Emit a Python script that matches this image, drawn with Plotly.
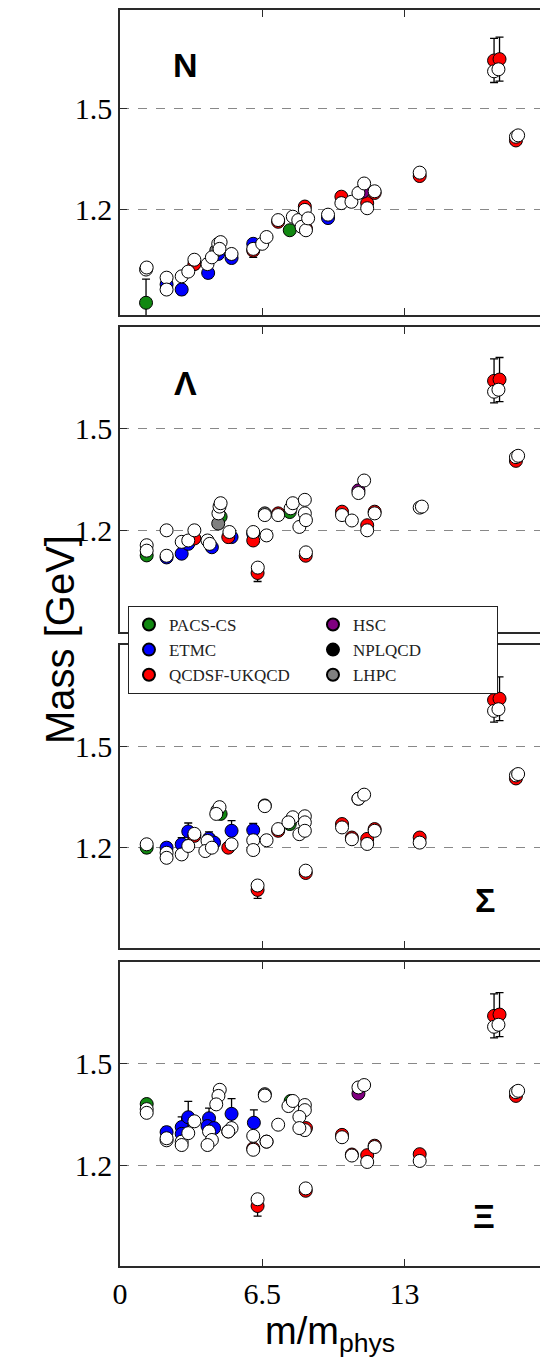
import plotly.graph_objects as go

# ---------------- data ----------------
GROUPS = ["PACS-CS", "ETMC", "QCDSF-UKQCD", "HSC", "NPLQCD", "LHPC"]
GROUP_COLORS = ["#118811", "#0000ff", "#ff0000", "#800080", "#000000", "#808080"]
LEGEND_RANK = [1, 3, 5, 2, 4, 6]

PANEL_LABELS = ["N", "Λ", "Σ", "Ξ"]
X_TICKS = [0, 6.5, 13]
Y_TICKS = [1.2, 1.5]

# --- N ---
N_x = [1.19, 7.76, 2.13, 2.82, 4.03, 5.1, 4.49, 9.51, 6.09,
       3.4, 6.09, 7.23, 8.45, 8.5, 10.12, 11.3, 11.64, 13.7, 17.1, 17.35, 18.1,
       11.11, 8.3, 4.4]
N_y = [0.926, 1.14, 0.98, 0.965, 1.014, 1.058, 1.07, 1.176, 1.10,
       1.04, 1.08, 1.165, 1.21, 1.145, 1.239, 1.22, 1.25, 1.30, 1.641, 1.645, 1.405,
       1.254, 1.17, 1.08]
N_err = [0.07, 0.01, 0.01, 0.015, 0.015, 0.01, 0.01, 0.01, 0.01,
         0.015, 0.02, 0.01, 0.01, 0.01, 0.01, 0.01, 0.01, 0.01, 0.065, 0.065, 0.005,
         0.01, 0.01, 0.01]
N_grp = ["PACS-CS", "PACS-CS", "ETMC", "ETMC", "ETMC", "ETMC", "ETMC", "ETMC", "ETMC",
         "QCDSF-UKQCD", "QCDSF-UKQCD", "QCDSF-UKQCD", "QCDSF-UKQCD", "QCDSF-UKQCD",
         "QCDSF-UKQCD", "QCDSF-UKQCD", "QCDSF-UKQCD", "QCDSF-UKQCD", "QCDSF-UKQCD",
         "QCDSF-UKQCD", "QCDSF-UKQCD", "HSC", "NPLQCD", "LHPC"]
N_fit_x = [1.19, 1.22, 2.13, 2.13, 2.82, 3.12, 3.4, 4.0, 4.2, 4.49, 4.6, 4.55, 5.1,
           6.09, 6.5, 6.7, 7.23, 7.9, 8.15, 8.45, 8.3, 8.5, 8.6, 9.51, 10.12, 10.58,
           10.9, 11.16, 11.3, 11.64, 13.7, 17.1, 17.3, 18.1, 18.2]
N_fit_y = [1.024, 1.03, 1.0, 0.965, 1.004, 1.018, 1.053, 1.04, 1.06, 1.10, 1.105, 1.085,
           1.07, 1.085, 1.10, 1.12, 1.17, 1.18, 1.17, 1.20, 1.15, 1.14, 1.175, 1.186,
           1.22, 1.224, 1.25, 1.278, 1.205, 1.255, 1.31, 1.609, 1.615, 1.416, 1.42]

# --- Lambda ---
L_x = [1.22, 7.76, 4.6,
       2.13, 2.82, 3.12, 4.2, 5.1, 6.09,
       3.4, 4.95, 6.09, 6.29, 7.23, 8.49, 10.15, 11.3, 11.64, 17.1, 17.35, 18.1,
       10.9, 4.49, 6.62]
L_y = [1.126, 1.254, 1.24,
       1.12, 1.131, 1.16, 1.15, 1.18, 1.19,
       1.176, 1.18, 1.17, 1.074, 1.25, 1.125, 1.255, 1.215, 1.255, 1.641, 1.645, 1.405,
       1.318, 1.22, 1.25]
L_err = [0.01, 0.01, 0.01,
         0.01, 0.01, 0.01, 0.01, 0.01, 0.01,
         0.01, 0.01, 0.01, 0.025, 0.005, 0.005, 0.005, 0.01, 0.005, 0.065, 0.065, 0.005,
         0.01, 0.01, 0.01]
L_grp = ["PACS-CS", "PACS-CS", "PACS-CS",
         "ETMC", "ETMC", "ETMC", "ETMC", "ETMC", "ETMC",
         "QCDSF-UKQCD", "QCDSF-UKQCD", "QCDSF-UKQCD", "QCDSF-UKQCD", "QCDSF-UKQCD",
         "QCDSF-UKQCD", "QCDSF-UKQCD", "QCDSF-UKQCD", "QCDSF-UKQCD", "QCDSF-UKQCD",
         "QCDSF-UKQCD", "QCDSF-UKQCD", "HSC", "LHPC", "LHPC"]
L_fit_x = [1.22, 1.22, 2.13, 2.13, 2.82, 3.12, 3.4, 4.0, 4.1, 4.5, 4.55, 4.6, 5.0, 6.09,
           6.3, 6.62, 6.7, 7.23, 7.8, 7.9, 8.45, 8.45, 8.2, 8.5, 8.5, 10.15, 10.6, 10.9,
           11.16, 11.3, 11.64, 13.7, 13.8, 17.1, 17.3, 18.1, 18.2]
L_fit_y = [1.156, 1.14, 1.20, 1.125, 1.166, 1.17, 1.20, 1.17, 1.16, 1.25, 1.27, 1.28,
           1.195, 1.195, 1.09, 1.245, 1.185, 1.245, 1.265, 1.28, 1.29, 1.25, 1.21, 1.23,
           1.135, 1.245, 1.229, 1.31, 1.347, 1.20, 1.25, 1.267, 1.27, 1.609, 1.615,
           1.416, 1.42]

# --- Sigma ---
S_x = [1.22, 4.6, 7.76,
       2.13, 2.82, 3.12, 4.07, 4.3, 5.1, 6.09,
       3.4, 4.95, 6.29, 7.23, 8.49, 10.15, 10.6, 11.3, 11.64, 13.7, 17.1, 17.35, 18.1,
       10.9, 6.62]
S_y = [1.20, 1.30, 1.27,
       1.20, 1.21, 1.248, 1.227, 1.215, 1.25, 1.252,
       1.235, 1.20, 1.075, 1.25, 1.125, 1.27, 1.23, 1.226, 1.255, 1.23, 1.637, 1.641,
       1.405, 1.345, 1.325]
S_err = [0.015, 0.01, 0.01,
         0.015, 0.02, 0.025, 0.02, 0.01, 0.03, 0.02,
         0.01, 0.01, 0.025, 0.005, 0.005, 0.005, 0.005, 0.005, 0.005, 0.005, 0.065,
         0.065, 0.005, 0.015, 0.01]
S_grp = ["PACS-CS", "PACS-CS", "PACS-CS",
         "ETMC", "ETMC", "ETMC", "ETMC", "ETMC", "ETMC", "ETMC",
         "QCDSF-UKQCD", "QCDSF-UKQCD", "QCDSF-UKQCD", "QCDSF-UKQCD", "QCDSF-UKQCD",
         "QCDSF-UKQCD", "QCDSF-UKQCD", "QCDSF-UKQCD", "QCDSF-UKQCD", "QCDSF-UKQCD",
         "QCDSF-UKQCD", "QCDSF-UKQCD", "QCDSF-UKQCD", "HSC", "LHPC"]
S_fit_x = [1.22, 2.13, 2.13, 2.82, 3.12, 3.4, 4.0, 3.9, 4.2, 4.45, 4.55, 4.4, 5.1, 6.09,
           6.09, 6.29, 6.62, 6.7, 7.23, 7.9, 7.7, 8.45, 8.45, 8.2, 8.45, 8.49, 10.15,
           10.6, 10.9, 11.16, 11.3, 11.64, 13.7, 17.1, 17.3, 18.1, 18.2]
S_fit_y = [1.21, 1.185, 1.17, 1.18, 1.205, 1.241, 1.22, 1.19, 1.20, 1.31, 1.32, 1.30,
           1.21, 1.222, 1.193, 1.088, 1.323, 1.222, 1.255, 1.29, 1.275, 1.293, 1.275,
           1.24, 1.25, 1.132, 1.26, 1.225, 1.345, 1.357, 1.211, 1.25, 1.215, 1.605,
           1.61, 1.414, 1.418]

# --- Xi ---
X_x = [1.22, 7.8,
       2.13, 2.82, 2.82, 3.12, 4.07, 4.0, 4.3, 5.1, 6.12, 8.3,
       4.95, 6.09, 6.29, 6.7, 8.5, 8.49, 10.15, 10.6, 11.3, 11.64, 13.7, 17.1, 17.35, 18.1,
       10.9, 6.62]
X_y = [1.381, 1.39,
       1.298, 1.313, 1.293, 1.342, 1.339, 1.316, 1.31, 1.352, 1.326, 1.31,
       1.30, 1.25, 1.08, 1.27, 1.31, 1.125, 1.29, 1.232, 1.23, 1.258, 1.233, 1.641,
       1.645, 1.405, 1.412, 1.41]
X_err = [0.01, 0.01,
         0.015, 0.03, 0.02, 0.047, 0.03, 0.02, 0.01, 0.045, 0.038, 0.01,
         0.01, 0.01, 0.03, 0.005, 0.01, 0.005, 0.005, 0.005, 0.005, 0.005, 0.005, 0.065,
         0.065, 0.005, 0.01, 0.01]
X_grp = ["PACS-CS", "PACS-CS",
         "ETMC", "ETMC", "ETMC", "ETMC", "ETMC", "ETMC", "ETMC", "ETMC", "ETMC", "ETMC",
         "QCDSF-UKQCD", "QCDSF-UKQCD", "QCDSF-UKQCD", "QCDSF-UKQCD", "QCDSF-UKQCD",
         "QCDSF-UKQCD", "QCDSF-UKQCD", "QCDSF-UKQCD", "QCDSF-UKQCD", "QCDSF-UKQCD",
         "QCDSF-UKQCD", "QCDSF-UKQCD", "QCDSF-UKQCD", "QCDSF-UKQCD", "HSC", "LHPC"]
X_fit_x = [1.22, 1.22, 2.13, 2.13, 2.82, 2.82, 3.12, 3.4, 4.07, 4.2, 4.0, 4.56, 4.5,
           4.4, 5.1, 4.95, 6.09, 6.09, 6.29, 6.62, 6.7, 7.23, 7.7, 7.9, 8.45, 8.45, 8.2,
           8.45, 8.2, 8.49, 10.15, 10.6, 10.9, 11.16, 11.3, 11.64, 13.7, 17.1, 17.3,
           18.1, 18.2]
X_fit_y = [1.366, 1.355, 1.274, 1.28, 1.27, 1.26, 1.295, 1.33, 1.30, 1.275, 1.26, 1.423,
           1.405, 1.38, 1.31, 1.30, 1.287, 1.246, 1.10, 1.406, 1.27, 1.32, 1.375, 1.39,
           1.378, 1.363, 1.343, 1.304, 1.31, 1.132, 1.283, 1.229, 1.43, 1.437, 1.21,
           1.254, 1.213, 1.609, 1.615, 1.416, 1.42]

PANELS = [
    (N_x, N_y, N_err, N_grp, N_fit_x, N_fit_y),
    (L_x, L_y, L_err, L_grp, L_fit_x, L_fit_y),
    (S_x, S_y, S_err, S_grp, S_fit_x, S_fit_y),
    (X_x, X_y, X_err, X_grp, X_fit_x, X_fit_y),
]

# ---------------- layout geometry ----------------
Y_RANGES = [[0.89, 1.79], [0.90, 1.80], [0.903, 1.80], [0.903, 1.80]]
DOMAINS = [[0.7572, 1.0], [0.5048, 0.7476], [0.2532, 0.4944], [0.0, 0.2420]]
LABEL_POS = [(2.99, 1.628), (2.98, 1.635), (16.7, 1.044), (16.64, 1.05)]
X_RANGE = [0, 19.2]

SERIF = "Liberation Serif, Times New Roman, serif"
SANS = "Liberation Sans, Arial, sans-serif"
AXIS_COLOR = "#2a2a2a"

fig = go.Figure()

for p, (px, py, pe, pg, fx, fy) in enumerate(PANELS):
    xa = "x" if p == 0 else f"x{p+1}"
    ya = "y" if p == 0 else f"y{p+1}"
    for g, col, rank in zip(GROUPS, GROUP_COLORS, LEGEND_RANK):
        gx = [x for x, gg in zip(px, pg) if gg == g]
        gy = [y for y, gg in zip(py, pg) if gg == g]
        ge = [e for e, gg in zip(pe, pg) if gg == g]
        fig.add_trace(go.Scatter(
            x=gx, y=gy, mode="markers", name=g,
            showlegend=(p == 0), legendrank=rank,
            xaxis=xa, yaxis=ya,
            marker=dict(size=13, color=col, line=dict(color="black", width=1)),
            error_y=dict(type="data", array=ge, color="black", thickness=1.3, width=4),
        ))
    fig.add_trace(go.Scatter(
        x=fx, y=fy, mode="markers", showlegend=False, xaxis=xa, yaxis=ya,
        marker=dict(size=13, color="white", line=dict(color="black", width=1)),
        hoverinfo="skip",
    ))

layout = dict(
    width=540, height=1358,
    margin=dict(l=120, r=0, t=10, b=92, autoexpand=False),
    paper_bgcolor="white", plot_bgcolor="white",
    showlegend=True,
    legend=dict(
        x=0.019, y=0.5255, xanchor="left", yanchor="top",
        orientation="h", entrywidth=139, entrywidthmode="pixels",
        bgcolor="white", bordercolor="#222222", borderwidth=1,
        font=dict(family=SERIF, size=17, color="#222222"),
        itemsizing="constant", tracegroupgap=0,
    ),
)

for p in range(4):
    xk = "xaxis" if p == 0 else f"xaxis{p+1}"
    yk = "yaxis" if p == 0 else f"yaxis{p+1}"
    ya = "y" if p == 0 else f"y{p+1}"
    xa = "x" if p == 0 else f"x{p+1}"
    layout[xk] = dict(
        domain=[0, 1], anchor=ya, range=X_RANGE, automargin=False,
        tickvals=X_TICKS, ticktext=[str(t) for t in X_TICKS],
        showticklabels=(p == 3), ticks="inside", ticklen=7, tickcolor=AXIS_COLOR,
        showline=True, linecolor=AXIS_COLOR, linewidth=1.5, mirror="ticks",
        showgrid=False, zeroline=False,
        tickfont=dict(family=SERIF, size=30, color="black"),
    )
    layout[yk] = dict(
        domain=DOMAINS[p], anchor=xa, range=Y_RANGES[p], automargin=False,
        tickvals=Y_TICKS, ticktext=[str(t) for t in Y_TICKS],
        ticks="inside", ticklen=7, tickcolor=AXIS_COLOR,
        showline=True, linecolor=AXIS_COLOR, linewidth=1.5, mirror=False,
        showgrid=True, gridcolor="#888888", griddash="dash", gridwidth=1,
        zeroline=False,
        tickfont=dict(family=SERIF, size=30, color="black"),
    )

fig.update_layout(**layout)

annotations = []
for p, (lbl, (lx, ly)) in enumerate(zip(PANEL_LABELS, LABEL_POS)):
    annotations.append(dict(
        x=lx, y=ly, xref="x" if p == 0 else f"x{p+1}",
        yref="y" if p == 0 else f"y{p+1}",
        text=f"<b>{lbl}</b>", showarrow=False,
        font=dict(family=SANS, size=34, color="black"),
    ))
# titles placed in pixel terms, converted to paper coordinates
plot_w = 540 - 120
plot_h = 1358 - 10 - 92
annotations.append(dict(
    x=(36 - 120) / plot_w, y=(1266 - 640) / plot_h, xref="paper", yref="paper",
    text="Mass [GeV]", showarrow=False, textangle=-90,
    font=dict(family=SANS, size=40, color="black"),
))
annotations.append(dict(
    x=(330 - 120) / plot_w, y=(1266 - 1360) / plot_h, xref="paper", yref="paper",
    yanchor="bottom", text="m/m<sub>phys</sub>", showarrow=False,
    font=dict(family=SANS, size=38, color="black"),
))
fig.update_layout(annotations=annotations)

fig.write_html(
    "out.html",
    config={"displayModeBar": False},
    post_script=(
        "document.body.style.margin='0';"
        "document.body.style.overflow='hidden';"
        "document.documentElement.style.overflow='hidden';"
    ),
)
